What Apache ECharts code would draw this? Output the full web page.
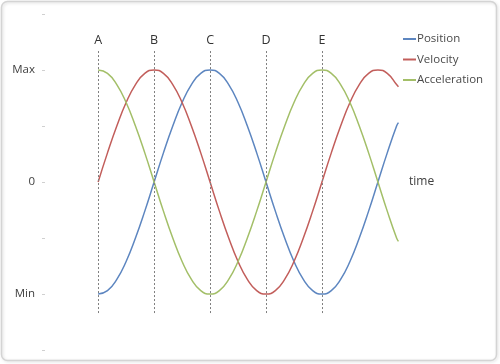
<!DOCTYPE html>
<html><head><meta charset="utf-8">
<script src="https://cdn.jsdelivr.net/npm/echarts@6/dist/echarts.min.js"></script>
<style>html,body{margin:0;padding:0;background:#fff}#c{width:500px;height:364px}</style>
</head><body><div id="c"></div>
<script>
// phase in degrees (A = 0, one full period = 360)
const phase = [0,15,30,45,60,75,90,105,120,135,150,165,180,195,210,225,240,255,270,285,300,315,330,345,360,375,390,405,420,435,450,465,480,483];
const position = [-1,-0.97,-0.87,-0.71,-0.5,-0.26,0,0.26,0.5,0.71,0.87,0.97,1,0.97,0.87,0.71,0.5,0.26,0,-0.26,-0.5,-0.71,-0.87,-0.97,-1,-0.97,-0.87,-0.71,-0.5,-0.26,0,0.26,0.5,0.53];
const velocity = [0,0.26,0.5,0.71,0.87,0.97,1,0.97,0.87,0.71,0.5,0.26,0,-0.26,-0.5,-0.71,-0.87,-0.97,-1,-0.97,-0.87,-0.71,-0.5,-0.26,0,0.26,0.5,0.71,0.87,0.97,1,0.97,0.87,0.85];
const acceleration = [1,0.97,0.87,0.71,0.5,0.26,0,-0.26,-0.5,-0.71,-0.87,-0.97,-1,-0.97,-0.87,-0.71,-0.5,-0.26,0,0.26,0.5,0.71,0.87,0.97,1,0.97,0.87,0.71,0.5,0.26,0,-0.26,-0.5,-0.53];
const markers = ['A','B','C','D','E'];
const markerPhase = [0,90,180,270,360];
const yLabels = {'-1':'Min','0':'0','1':'Max'};

const zip = (xs, ys) => xs.map((x,i)=>[x, ys[i]]);
const font = '"Open Sans", sans-serif';
const chart = echarts.init(document.getElementById('c'), null, {renderer:'canvas'});
const mk = (name, color, data, extra) => Object.assign({
  name, type:'line', data: zip(phase, data), smooth: true, showSymbol:false, symbol:'none',
  lineStyle:{color, width:1.5}, itemStyle:{color}, z:3, animation:false
}, extra||{});
chart.setOption({
  animation:false,
  backgroundColor:'#fff',
  graphic:[{type:'rect', shape:{x:1.5,y:1.5,width:495,height:359,r:6}, style:{fill:'none', stroke:'#d4d4d4', lineWidth:1.5, shadowBlur:3, shadowColor:'rgba(0,0,0,0.15)', shadowOffsetX:1, shadowOffsetY:1}, z:-1}],
  grid:{left:45, top:14, width:355, height:336},
  legend:{orient:'vertical', left:398, top:28, itemWidth:13, itemHeight:2, itemGap:8.5, icon:'rect',
    textStyle:{fontFamily:font, fontSize:11.5, color:'#4a4a4a', padding:[0,0,0,-4]},
    data:['Position','Velocity','Acceleration']},
  xAxis:{type:'value', min:-85.5, max:485.5, axisLine:{show:false, onZero:true}, axisTick:{show:false}, axisLabel:{show:false}, splitLine:{show:false},
    name:'time', nameLocation:'end', nameGap:9, nameTextStyle:{fontFamily:font, fontSize:12, color:'#404040'}},
  yAxis:{type:'value', min:-1.5, max:1.5, interval:0.5, axisLine:{show:false, onZero:false}, splitLine:{show:false},
    axisTick:{show:true, length:3, lineStyle:{color:'#d0d0d0'}},
    axisLabel:{margin:10, fontFamily:font, fontSize:11.5, color:'#404040', formatter:v=>yLabels[String(v)]||''}},
  series:[
    mk('Position','#5d86c0',position),
    mk('Velocity','#c25e5b',velocity),
    mk('Acceleration','#a3bf68',acceleration,{
      markLine:{silent:true, symbol:['none','none'], animation:false,
        lineStyle:{type:[2,2], color:'#7f7f7f', width:1},
        label:{show:true, position:'end', distance:4, fontFamily:font, fontSize:12.5, color:'#333'},
        data: markers.map((m,i)=>[{coord:[markerPhase[i],-1.17]},{coord:[markerPhase[i],1.17], name:m, label:{formatter:m}}])}
    })
  ]
});
</script></body></html>
